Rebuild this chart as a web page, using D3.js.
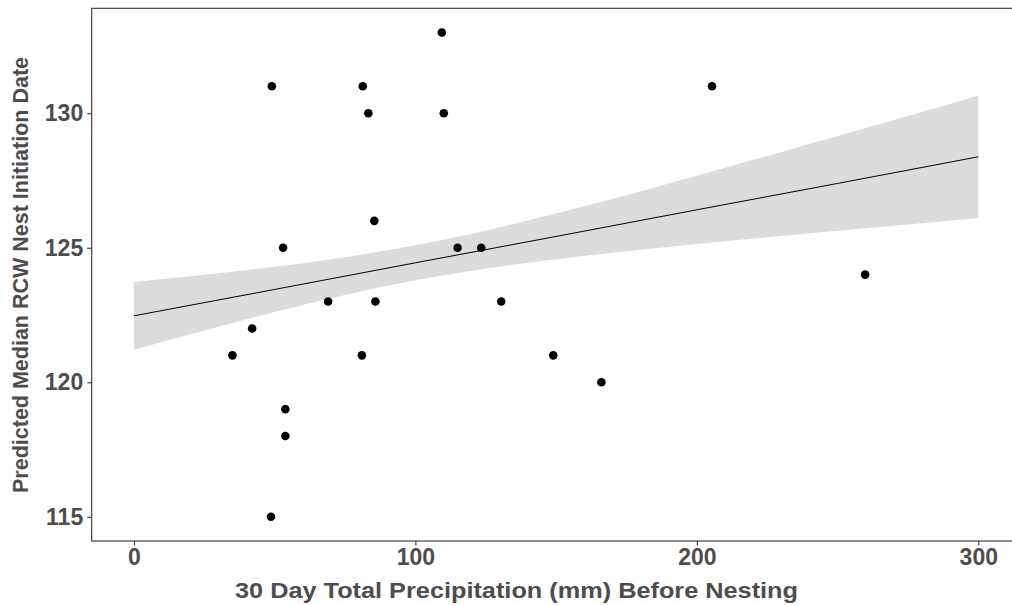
<!DOCTYPE html>
<html>
<head>
<meta charset="utf-8">
<script src="https://d3js.org/d3.v7.min.js"></script>
<style>
  body { margin: 0; background: #fff; }
  svg { display: block; font-family: "Liberation Sans", Arial, sans-serif; }
</style>
</head>
<body>
<div id="chart"></div>
<script>
// observed points: 30 day precipitation (mm) vs predicted median nest initiation date
const precip = [49, 53, 69, 42, 35, 53.8, 53.8, 48.7, 109.4, 81.3, 83.3, 110.1,
                85.4, 115, 123.4, 85.8, 130.5, 81, 149, 166.1, 205.4, 259.8];
const initDate = [131, 125, 123, 122, 121, 119, 118, 115, 133, 131, 130, 130,
                  126, 125, 125, 123, 123, 121, 121, 120, 131, 124];

// linear fit and its confidence band
const fitX = [0, 50, 100, 150, 200, 250, 300];
const fitY = [122.47, 123.45, 124.44, 125.42, 126.41, 127.39, 128.38];
const bandLow = [121.21, 122.61, 123.79, 124.57, 125.14, 125.63, 126.11];
const bandHigh = [123.73, 124.29, 125.09, 126.27, 127.68, 129.15, 130.65];

const xTicks = [0, 100, 200, 300];
const yTicks = [115, 120, 125, 130];

const width = 1012, height = 605;
const margin = { top: 8.3, right: -8.5, bottom: 64, left: 91.7 };

const svg = d3.select("#chart").append("svg")
  .attr("width", width)
  .attr("height", height);

const x = d3.scaleLinear()
  .domain([-15, 315])
  .range([margin.left, width - margin.right]);

const y = d3.scaleLinear()
  .domain([114.1, 133.9])
  .range([height - margin.bottom, margin.top]);

const fit = fitX.map((d, i) => ({ x: d, y: fitY[i], lo: bandLow[i], hi: bandHigh[i] }));

// confidence ribbon
svg.append("path")
  .datum(fit)
  .attr("fill", "#dcdcdc")
  .attr("d", d3.area()
    .x(d => x(d.x))
    .y0(d => y(d.lo))
    .y1(d => y(d.hi))
    .curve(d3.curveNatural));

// fitted line
svg.append("path")
  .datum(fit)
  .attr("fill", "none")
  .attr("stroke", "#000")
  .attr("stroke-width", 1)
  .attr("d", d3.line().x(d => x(d.x)).y(d => y(d.y)));

// points
svg.append("g")
  .selectAll("circle")
  .data(precip.map((d, i) => ({ x: d, y: initDate[i] })))
  .join("circle")
  .attr("cx", d => x(d.x))
  .attr("cy", d => y(d.y))
  .attr("r", 4.3)
  .attr("fill", "#000");

// panel border
svg.append("rect")
  .attr("x", x.range()[0])
  .attr("y", y.range()[1])
  .attr("width", x.range()[1] - x.range()[0])
  .attr("height", y.range()[0] - y.range()[1])
  .attr("fill", "none")
  .attr("stroke", "#333")
  .attr("stroke-width", 1.1);

// axes
const xAxis = svg.append("g")
  .attr("transform", `translate(0,${y.range()[0]})`)
  .call(d3.axisBottom(x).tickValues(xTicks).tickSize(4.5).tickPadding(3));

const yAxis = svg.append("g")
  .attr("transform", `translate(${x.range()[0]},0)`)
  .call(d3.axisLeft(y).tickValues(yTicks).tickSize(4.5).tickPadding(4));

[xAxis, yAxis].forEach(g => {
  g.select(".domain").remove();
  g.selectAll(".tick line").attr("stroke", "#333").attr("stroke-width", 1.1);
  g.selectAll(".tick text")
    .attr("fill", "#4d4d4d")
    .style("font-size", "23px")
    .style("font-weight", "bold");
});

// axis titles
svg.append("text")
  .attr("x", 516.5)
  .attr("y", 598)
  .attr("text-anchor", "middle")
  .attr("textLength", 563)
  .attr("lengthAdjust", "spacingAndGlyphs")
  .attr("fill", "#4d4d4d")
  .style("font-size", "22px")
  .style("font-weight", "bold")
  .text("30 Day Total Precipitation (mm) Before Nesting");

svg.append("text")
  .attr("transform", "translate(28,275) rotate(-90)")
  .attr("text-anchor", "middle")
  .attr("textLength", 436)
  .attr("lengthAdjust", "spacingAndGlyphs")
  .attr("fill", "#4d4d4d")
  .style("font-size", "22px")
  .style("font-weight", "bold")
  .text("Predicted Median RCW Nest Initiation Date");
</script>
</body>
</html>
